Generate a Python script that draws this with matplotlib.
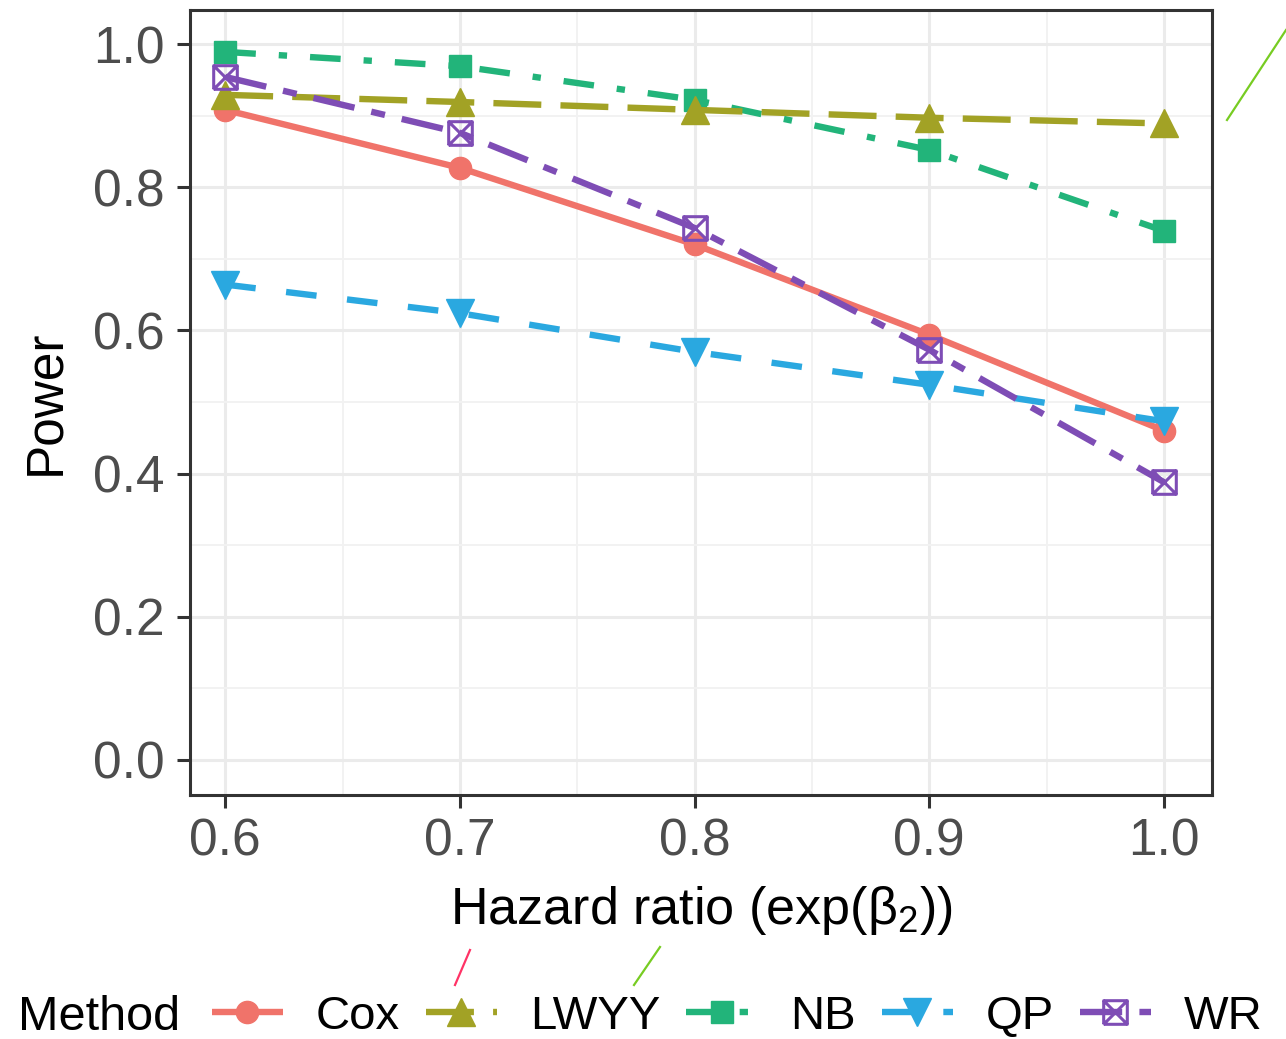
import matplotlib
matplotlib.use("Agg")
import matplotlib.pyplot as plt
from matplotlib.path import Path
from matplotlib.lines import Line2D

plt.rcParams['font.family'] = ['Liberation Sans', 'DejaVu Sans']

hazard = [0.6, 0.7, 0.8, 0.9, 1.0]
cox = [0.908, 0.827, 0.720, 0.594, 0.460]
lwyy = [0.929, 0.919, 0.908, 0.897, 0.889]
nb = [0.989, 0.969, 0.922, 0.852, 0.739]
qp = [0.664, 0.624, 0.570, 0.524, 0.473]
wr = [0.954, 0.876, 0.743, 0.573, 0.388]

methods = ["Cox", "LWYY", "NB", "QP", "WR"]
xticks = [0.6, 0.7, 0.8, 0.9, 1.0]
yticks = [0.0, 0.2, 0.4, 0.6, 0.8, 1.0]

# square with a cross (ggplot shape 7)
boxx = Path([(-1, -1), (1, -1), (1, 1), (-1, 1), (-1, -1),
             (-1, -1), (1, 1), (-1, 1), (1, -1)],
            [Path.MOVETO, Path.LINETO, Path.LINETO, Path.LINETO, Path.LINETO,
             Path.MOVETO, Path.LINETO, Path.MOVETO, Path.LINETO])

lw = 4.6
styles = {
    "Cox": dict(color="#F0736A", ls="-", marker="o", ms=16),
    "NB": dict(color="#22B47A", ls=(0, (4.8, 3.6, 1.3, 3.6)), marker="s", ms=16),
    "LWYY": dict(color="#A2A225", ls=(0, (7.5, 3.0)), marker="^", ms=20),
    "QP": dict(color="#2AA8E0", ls=(0, (4.8, 4.8)), marker="v", ms=20),
    "WR": dict(color="#7E4DB5", ls=(0, (6.6, 2.7, 2.2, 2.7)), marker=boxx, ms=17,
               mfc="none", mew=2.2),
}
series = {"Cox": cox, "NB": nb, "LWYY": lwyy, "QP": qp, "WR": wr}

fig = plt.figure(figsize=(12.86, 10.39), dpi=100)
ax = fig.add_axes([190/1286, 1-795/1039, (1212-190)/1286, (795-10)/1039])

handles = {}
for name in ["Cox", "NB", "LWYY", "QP", "WR"]:
    st = dict(styles[name])
    h, = ax.plot(hazard, series[name], color=st.pop("color"), linestyle=st.pop("ls"),
                 lw=lw, solid_capstyle="butt", dash_capstyle="butt", **st, label=name)
    handles[name] = h

ax.set_xlim(0.585, 1.0205)
ax.set_ylim(-0.049, 1.0475)
ax.set_xticks(xticks)
ax.set_xticklabels(["0.6", "0.7", "0.8", "0.9", "1.0"])
ax.set_yticks(yticks)
ax.set_xticks([0.65, 0.75, 0.85, 0.95], minor=True)
ax.set_yticks([0.1, 0.3, 0.5, 0.7, 0.9], minor=True)
ax.grid(True, which="major", color="#EBEBEB", lw=2.2)
ax.grid(True, which="minor", color="#F2F2F2", lw=1.4)
ax.set_axisbelow(True)
ax.tick_params(which="major", length=9.5, width=2.2, color="#333333",
               labelsize=37, labelcolor="#4D4D4D")
ax.tick_params(axis="y", pad=9)
ax.tick_params(axis="x", pad=7)
ax.tick_params(which="minor", length=0)
for s in ax.spines.values():
    s.set_color("#333333")
    s.set_linewidth(2.2)

ax.set_xlabel(r"Hazard ratio (exp($\mathregular{\beta_2}$))", fontsize=37.5, labelpad=12)
ax.set_ylabel("Power", fontsize=37, labelpad=16)

fig.text(18/1286, 1-1017/1039, "Method", fontsize=35, va="center", ha="left")
leg = fig.legend([handles[m] for m in methods], methods, loc="center left",
                 bbox_to_anchor=(212/1286, 1-1017/1039), ncol=5, frameon=False,
                 fontsize=34, handlelength=1.5, handletextpad=0.7,
                 columnspacing=0.55, borderaxespad=0, borderpad=0)

# stray annotation strokes visible in the source image
fig.add_artist(Line2D([470/1286, 455/1286], [1-950/1039, 1-985/1039],
                      color="#FF3366", lw=1.6))
fig.add_artist(Line2D([660/1286, 634/1286], [1-947/1039, 1-985/1039],
                      color="#77CC22", lw=1.6))
fig.add_artist(Line2D([1286/1286, 1227/1286], [1-30/1039, 1-120/1039],
                      color="#77CC22", lw=1.6))

fig.savefig("out.png", dpi=100)
